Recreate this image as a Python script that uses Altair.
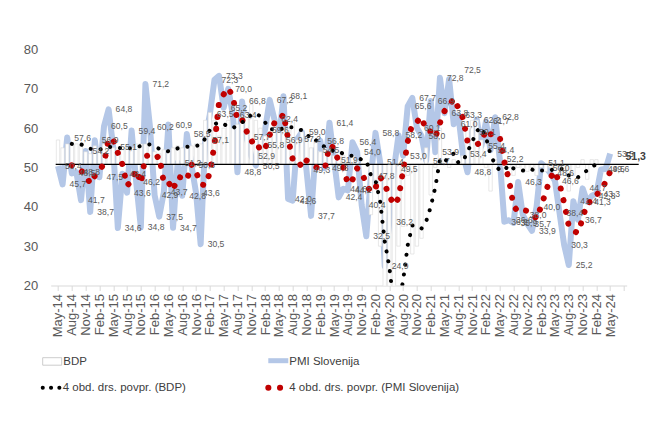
import json
import altair as alt
import pandas as pd

# ---------------- data ----------------
tick_labels = ['May-14', 'Aug-14', 'Nov-14', 'Feb-15', 'May-15', 'Aug-15', 'Nov-15', 'Feb-16',
               'May-16', 'Aug-16', 'Nov-16', 'Feb-17', 'May-17', 'Aug-17', 'Nov-17', 'Feb-18',
               'May-18', 'Aug-18', 'Nov-18', 'Feb-19', 'May-19', 'Aug-19', 'Nov-19', 'Feb-20',
               'May-20', 'Aug-20', 'Nov-20', 'Feb-21', 'May-21', 'Aug-21', 'Nov-21', 'Feb-22',
               'May-22', 'Aug-22', 'Nov-22', 'Feb-23', 'May-23', 'Aug-23', 'Nov-23', 'Feb-24',
               'May-24']

# PMI Slovenija, monthly from May-14
pmi_values = [
    50.4, 45.7, 57.6, 48.5, 48.8, 41.7, 54.2, 38.7, 56.9, 47.5,
    60.5, 64.8, 55.1, 34.6, 48.4, 43.6, 59.4, 46.2, 34.8, 71.2,
    60.2, 42.9, 37.5, 43.7, 60.9, 34.7, 51.2, 42.8, 58.5, 50.6,
    43.6, 30.5, 57.1, 63.5, 72.3, 73.3, 65.2, 70.0, 63.4, 48.8,
    66.8, 57.7, 52.9, 50.5, 55.8, 59.6, 67.2, 62.4, 56.9, 68.1,
    42.0, 41.6, 57.2, 59.0, 49.3, 37.7, 54.5, 56.8, 49.8, 61.4,
    51.9, 42.4, 44.6, 44.2, 56.4, 54.0, 40.4, 32.5, 47.8, 58.8,
    51.4, 24.9, 36.2, 49.5, 58.2, 53.0, 65.6, 67.7, 60.1, 58.0,
    51.7, 66.9, 53.9, 72.8, 63.8, 72.5, 61.0, 63.3, 53.4, 48.8,
    59.1, 62.2, 55.4, 61.7, 54.4, 62.8, 52.2, 36.2, 36.6, 35.9,
    46.3, 38.0, 35.7, 33.9, 40.0, 51.1, 50.0, 48.6, 46.6, 38.4,
    30.3, 25.2, 41.4, 36.7, 44.7, 41.3, 42.8, 43.3, 49.5, 49.6,
    53.5,
]

# BDP, monthly from May-14
bdp_values = [
    57, 55, 56, 56, 56, 55.5, 54, 53.5, 55.5, 55,
    56, 54.5, 55, 55, 54.5, 55, 55, 56, 56, 56,
    55.5, 54, 53.5, 54.5, 54.5, 55, 55.5, 55, 55.5, 55.5,
    56, 56, 62, 64, 62, 58, 60, 62, 60, 61,
    63, 64, 66, 62, 60, 58, 59, 62, 59, 60,
    60, 62, 57, 59, 57, 55, 57, 54, 55, 54,
    53, 54, 53, 52, 53, 52, 51, 51, 38, 47,
    30, 10, 12, 8, 30, 35, 48, 28, 30, 32,
    55, 43, 50, 60, 52, 50, 52, 51, 53, 60,
    62, 62, 57, 50, 44, 52, 51, 50, 50, 48,
    50, 49, 49, 50, 48, 50, 49, 50, 50, 50,
    48, 44, 48, 50, 52, 47, 52, 52,
]

threshold = 50.8          # black horizontal line (axis crossing)
line_label = "51,3"
leader_idx = 85           # label moved up-right in the original

df_pmi = pd.DataFrame({
    "t": list(range(len(pmi_values))),
    "pmi": pmi_values,
    "label": [f"{v:.1f}".replace(".", ",") for v in pmi_values],
})
df_bdp = pd.DataFrame({"t": list(range(len(bdp_values))), "bdp": bdp_values})
dummy = pd.DataFrame({"k": [0]})

FONT = "Liberation Sans"
GREY = "#595959"
PMI_BLUE = "#b4c7e7"
RED = "#c00000"

W, H = 576, 236
xscale = alt.Scale(domain=[-0.5, 122.5], nice=False, zero=False)
yscale = alt.Scale(domain=[20, 80], nice=False, zero=False)

label_expr = json.dumps(tick_labels + [""]) + "[round(datum.value / 3)]"

x_axis = alt.Axis(
    values=list(range(0, 124, 3)), labelExpr=label_expr, labelAngle=270,
    grid=False, domain=True, domainColor="#d9d9d9", tickColor="#d9d9d9",
    ticks=True, tickSize=5, labelPadding=3, labelFontSize=13, labelColor=GREY,
    labelFont=FONT, title=None, labelOverlap=False,
)
y_axis = alt.Axis(
    values=[20, 30, 40, 50, 60, 70, 80], grid=False, domain=False, ticks=False,
    labelFontSize=13, labelColor=GREY, labelFont=FONT, labelPadding=13, title=None,
)


def xf(field):
    return alt.X(field, scale=xscale, axis=x_axis)


def yf(field):
    return alt.Y(field, scale=yscale, axis=y_axis)


bars = alt.Chart(df_bdp).mark_bar(
    width=3.4, fill="white", stroke="#d9d9d9", strokeWidth=0.6, clip=True
).encode(x=xf("t:Q"), y=yf("bdp:Q"), y2=alt.Y2(datum=threshold))

pmi_line = alt.Chart(df_pmi).mark_line(
    color=PMI_BLUE, strokeWidth=6, strokeJoin="round", clip=True
).encode(x=xf("t:Q"), y=yf("pmi:Q"))

rule50 = alt.Chart(dummy).mark_rule(color="black", strokeWidth=1.3).encode(
    x=alt.X(datum=-0.5, scale=xscale, axis=x_axis),
    x2=alt.X2(datum=126.2),
    y=alt.Y(datum=threshold, scale=yscale, axis=y_axis),
)

pmi_ma = alt.Chart(df_pmi).transform_window(
    ma="mean(pmi)", n="count()", frame=[-3, 0], sort=[alt.SortField("t")]
).transform_filter("datum.n == 4").mark_line(
    color=RED, strokeWidth=6, strokeDash=[0.1, 11.9], strokeCap="round", clip=True
).encode(x=xf("t:Q"), y=yf("ma:Q"))

bdp_ma = alt.Chart(df_bdp).transform_window(
    ma="mean(bdp)", n="count()", frame=[-3, 0], sort=[alt.SortField("t")]
).transform_filter("datum.n == 4").mark_line(
    color="black", strokeWidth=4, strokeDash=[0.1, 9.9], strokeCap="round", clip=True
).encode(x=xf("t:Q"), y=yf("ma:Q"))

labels = alt.Chart(df_pmi).transform_filter(f"datum.t != {leader_idx}").mark_text(
    align="left", baseline="middle", dx=7, fontSize=8.6, color=GREY, font=FONT
).encode(x=xf("t:Q"), y=yf("pmi:Q"), text="label:N")

leader_label = alt.Chart(df_pmi).transform_filter(f"datum.t == {leader_idx}").mark_text(
    align="left", baseline="middle", dx=15, dy=-9, fontSize=8.6, color=GREY, font=FONT
).encode(x=xf("t:Q"), y=yf("pmi:Q"), text="label:N")

end_label = alt.Chart(dummy).mark_text(
    align="center", baseline="middle", dx=-3, dy=-7, fontSize=10.5,
    fontWeight="bold", color="#404040", font=FONT
).encode(
    x=alt.X(datum=126.2, scale=xscale, axis=x_axis),
    y=alt.Y(datum=threshold, scale=yscale, axis=y_axis),
    text=alt.value(line_label),
)

# ---------------- legend (below the axis) ----------------
def ltext(txt, px, py):
    return alt.Chart(dummy).mark_text(
        align="left", baseline="middle", fontSize=11.5, color="#404040", font=FONT
    ).encode(x=alt.value(px), y=alt.value(py), text=alt.value(txt))

row1, row2 = 312.2, 338.2
leg_bdp = alt.Chart(dummy).mark_rect(fill="white", stroke="#bfbfbf", strokeWidth=0.8).encode(
    x=alt.value(-8), x2=alt.value(11), y=alt.value(row1 - 4), y2=alt.value(row1 + 3.5))
leg_pmi = alt.Chart(dummy).mark_rule(color=PMI_BLUE, strokeWidth=5).encode(
    x=alt.value(217.6), x2=alt.value(237.6), y=alt.value(row1 - 1))
leg_bdp_ma = alt.Chart(dummy).mark_rule(
    color="black", strokeWidth=4, strokeDash=[0.1, 8.2], strokeCap="round").encode(
    x=alt.value(-8), x2=alt.value(8.7), y=alt.value(row2))
leg_pmi_ma = alt.Chart(dummy).mark_rule(
    color=RED, strokeWidth=6, strokeDash=[0.1, 11.6], strokeCap="round").encode(
    x=alt.value(217.6), x2=alt.value(229.4), y=alt.value(row2))

chart = alt.layer(
    pmi_line, bars, rule50, pmi_ma, bdp_ma, labels, leader_label, end_label,
    leg_bdp, ltext("BDP", 12.6, row1),
    leg_pmi, ltext("PMI Slovenija", 238.6, row1),
    leg_bdp_ma, ltext("4 obd. drs. povpr. (BDP)", 12, row2),
    leg_pmi_ma, ltext("4 obd. drs. povpr. (PMI Slovenija)", 238.6, row2),
).properties(
    width=W, height=H,
    autosize=alt.AutoSizeParams(type="none"),
    padding={"left": 42.7, "top": 41.5, "right": 30, "bottom": 115},
).configure(background="white").configure_view(stroke=None)

chart.save("out.html", embed_options={"renderer": "svg", "actions": False})
